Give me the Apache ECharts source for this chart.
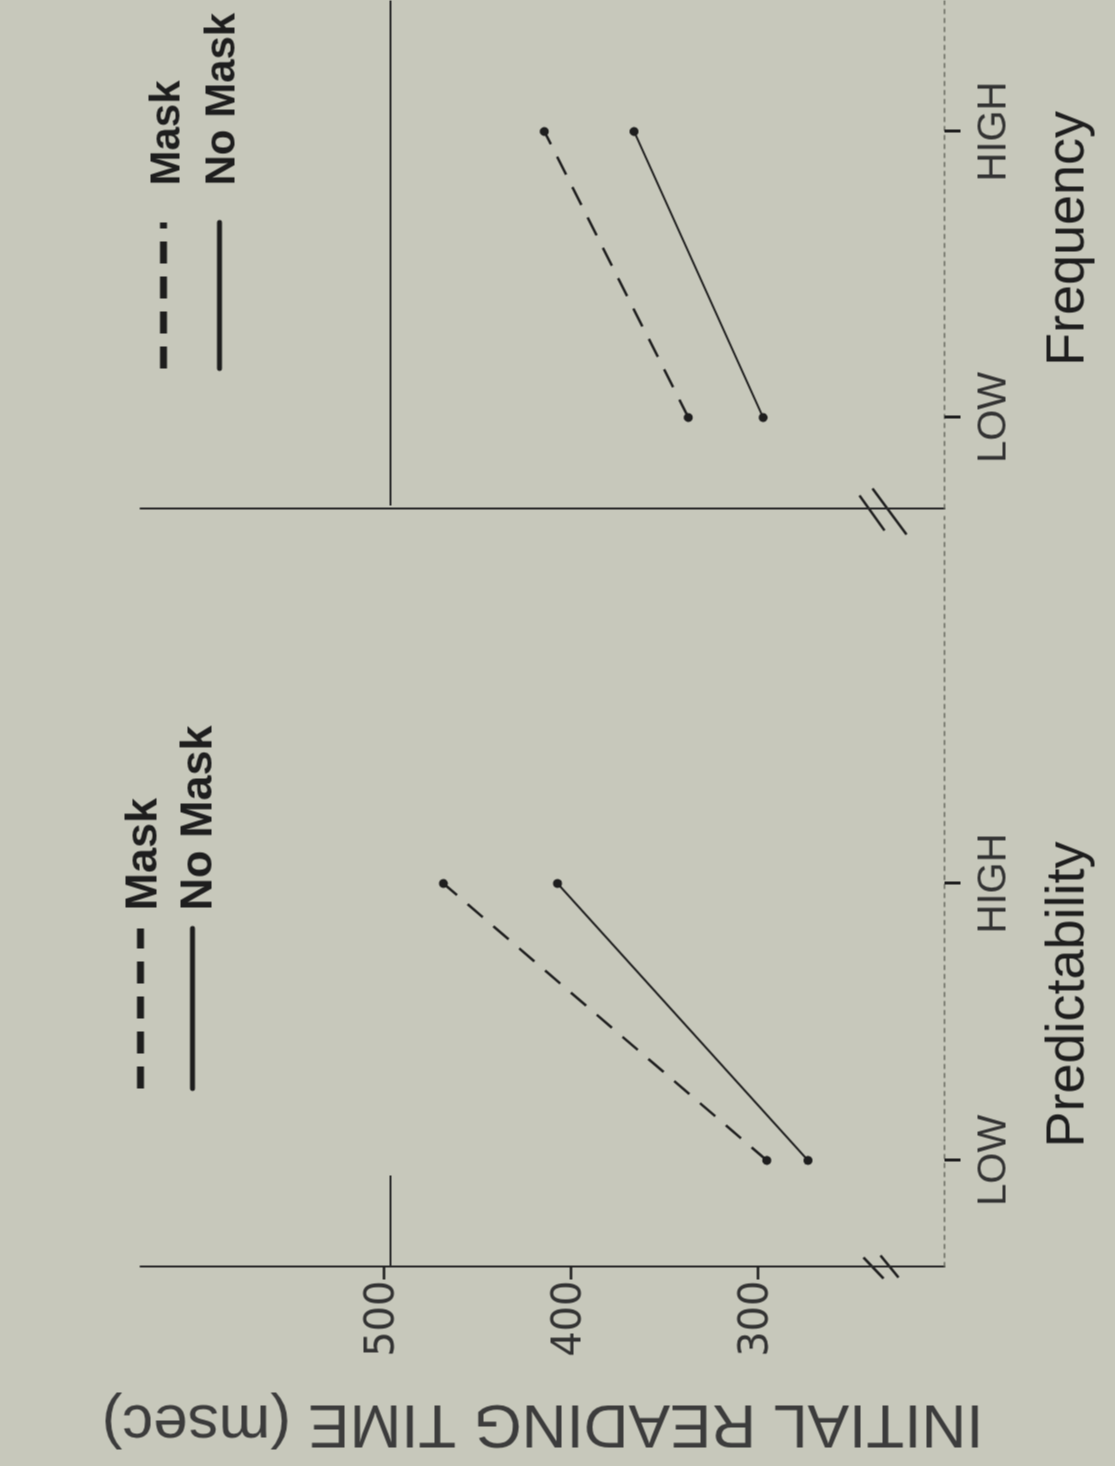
<!DOCTYPE html>
<html><head><meta charset="utf-8">
<script src="https://cdn.jsdelivr.net/npm/echarts@6/dist/echarts.min.js"></script>
<style>
html,body{margin:0;padding:0;width:1115px;height:1466px;overflow:hidden;background:#c7c8bb;}
#chart{position:absolute;width:1466px;height:1115px;left:-175.5px;top:175.5px;transform:rotate(-90deg);transform-origin:50% 50%;}
</style></head><body><div id="chart"></div>
<script>
// ---- data ----
const levels = ['LOW', 'HIGH'];
const levelPos = [0, 1];
const predMask = [295, 468];
const predNoMask = [273, 407];
const freqMask = [337, 414];
const freqNoMask = [297, 366];
const yTicks = [300, 400, 500];
const seriesNames = ['Mask', 'No Mask'];
const panelTitles = ['Predictability', 'Frequency'];
const yTitle = 'INITIAL READING TIME (msec)';

const ink = '#1e1e1e';
const hand = '#333333';
const narrow = "'Liberation Sans Narrow','Liberation Sans',sans-serif";
const sans = "'Liberation Sans',Arial,sans-serif";

const chart = echarts.init(document.getElementById('chart'), null, {renderer: 'canvas'});

function xAxisFor(grid, min, max) {
  return {
    type: 'value', gridIndex: grid, min: min, max: max,
    axisLine: {show: true, onZero: false, lineStyle: {color: '#6a6b62', width: 1.5, type: [4, 5]}},
    axisTick: {show: true, customValues: levelPos, length: 16, lineStyle: {color: ink, width: 3}},
    axisLabel: {show: true, customValues: levelPos, margin: 30, fontSize: 40, fontFamily: narrow, color: hand,
      formatter: v => levels[Math.round(v)] || ''},
    splitLine: {show: false}
  };
}
function yAxisFor(grid, showLabels) {
  return {
    type: 'value', gridIndex: grid, min: 200, max: 630,
    axisLine: {show: true, onZero: false, lineStyle: {color: '#2a2a2a', width: 2}},
    axisTick: {show: showLabels, customValues: yTicks, length: 13, lineStyle: {color: ink, width: 2.5}},
    axisLabel: {show: showLabels, customValues: yTicks, margin: 14, fontSize: 40, fontFamily: "'DejaVu Sans',sans-serif", color: hand,
      formatter: v => (yTicks.indexOf(v) >= 0 ? String(v) : '')},
    splitLine: {show: false},
    name: showLabels ? yTitle : '',
    nameLocation: 'middle', nameGap: 125, nameRotate: 90,
    nameTextStyle: {fontSize: 62, fontFamily: narrow, color: '#3c3c3c'}
  };
}
function lineSeries(name, grid, vals, dashed) {
  return {
    name: name, type: 'line', xAxisIndex: grid, yAxisIndex: grid,
    data: levelPos.map((x, i) => [x, vals[i]]),
    symbol: 'circle', symbolSize: 9, showSymbol: true,
    itemStyle: {color: ink},
    lineStyle: {color: ink, width: dashed ? 2.5 : 2, type: dashed ? [20, 14] : 'solid'},
    silent: true, animation: false
  };
}

const legendG = [];
function legendBlock(u0, u1, vDash, vSolid) {
  legendG.push({type: 'line', shape: {x1: u0, y1: vDash, x2: u1, y2: vDash},
    style: {stroke: ink, lineWidth: 7, lineDash: [22, 13], lineCap: 'butt'}});
  legendG.push({type: 'line', shape: {x1: u0, y1: vSolid, x2: u1, y2: vSolid},
    style: {stroke: ink, lineWidth: 5, lineCap: 'round'}});
}
legendBlock(378, 538, 140, 192);
legendBlock(1098, 1244, 163, 219);

const option = {
  backgroundColor: '#c7c8bb',
  animation: false,
  grid: [
    {left: 200, right: 516, top: 140, bottom: 171},
    {left: 958, right: 0, top: 140, bottom: 171}
  ],
  xAxis: [xAxisFor(0, -0.383, 2.325), xAxisFor(1, -0.318, 1.458)],
  yAxis: [yAxisFor(0, true), yAxisFor(1, false)],
  series: [
    lineSeries(seriesNames[0], 0, predMask, true),
    lineSeries(seriesNames[1], 0, predNoMask, false),
    lineSeries(seriesNames[0], 1, freqMask, true),
    lineSeries(seriesNames[1], 1, freqNoMask, false)
  ],
  graphic: legendG.concat([
    {type: 'text', style: {x: 556, y: 144, text: seriesNames[0], font: 'bold 45px ' + sans, fill: ink, textAlign: 'left', textVerticalAlign: 'middle'}},
    {type: 'text', style: {x: 556, y: 199, text: seriesNames[1], font: 'bold 45px ' + sans, fill: ink, textAlign: 'left', textVerticalAlign: 'middle'}},
    {type: 'text', style: {x: 1281, y: 167, text: seriesNames[0], font: 'bold 42px ' + sans, fill: ink, textAlign: 'left', textVerticalAlign: 'middle'}},
    {type: 'text', style: {x: 1281, y: 222, text: seriesNames[1], font: 'bold 42px ' + sans, fill: ink, textAlign: 'left', textVerticalAlign: 'middle'}},
    {type: 'text', style: {x: 472, y: 1068, text: panelTitles[0], font: '54px ' + sans, fill: ink, textAlign: 'center', textVerticalAlign: 'middle'}},
    {type: 'text', style: {x: 1228, y: 1068, text: panelTitles[1], font: '54px ' + sans, fill: ink, textAlign: 'center', textVerticalAlign: 'middle'}},
    // axis break marks
    {type: 'line', shape: {x1: 209, y1: 863, x2: 188, y2: 883}, style: {stroke: ink, lineWidth: 2.5}},
    {type: 'line', shape: {x1: 211, y1: 880, x2: 189, y2: 898}, style: {stroke: ink, lineWidth: 2.5}},
    {type: 'line', shape: {x1: 971, y1: 859, x2: 936, y2: 884}, style: {stroke: ink, lineWidth: 2.5}},
    {type: 'line', shape: {x1: 978, y1: 872, x2: 932, y2: 906}, style: {stroke: ink, lineWidth: 2.5}},
    // long rule lines seen on the sheet
    {type: 'line', shape: {x1: 961, y1: 390, x2: 1466, y2: 390}, style: {stroke: '#2a2a2a', lineWidth: 2}},
    {type: 'line', shape: {x1: 200, y1: 390, x2: 291, y2: 390}, style: {stroke: '#2a2a2a', lineWidth: 2}}
  ])
};
chart.setOption(option);
</script></body></html>
